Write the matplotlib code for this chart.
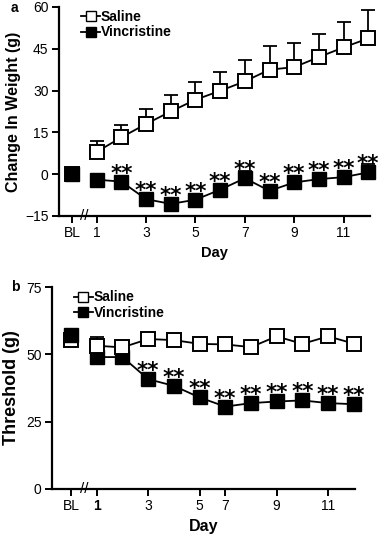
import numpy as np
import matplotlib
matplotlib.use("Agg")
import matplotlib.pyplot as plt
from matplotlib.lines import Line2D
import matplotlib.transforms as mtransforms

plt.rcParams['font.family'] = ['Liberation Sans', 'DejaVu Sans']

# panel a: change in weight (g), BL + days 1..12
pos_a = [0, 1, 2, 3, 4, 5, 6, 7, 8, 9, 10, 11, 12]
sal_a = [0, 8, 13.2, 18, 22.5, 26.7, 29.9, 33.3, 37.5, 38.4, 42, 45.5, 48.7]
sal_a_err = [0.8, 3.8, 4.6, 5.2, 6, 6.2, 6.6, 7.5, 8.4, 8.7, 8.4, 9.2, 10.1]
vin_a = [0, -2, -2.7, -9, -10.7, -9.2, -5.6, -1.5, -6, -3, -1.8, -1.1, 0.6]
vin_a_err = [0.8, 1, 1, 1, 1, 1, 1.5, 2.5, 2, 2, 2, 2.2, 3]
stars_a = [2, 3, 4, 5, 6, 7, 8, 9, 10, 11, 12]
ticks_a = [0, 1, 3, 5, 7, 9, 11]
labels_a = ['BL', '1', '3', '5', '7', '9', '11']

# panel b: threshold (g), BL + 11 test days (no day 6)
pos_b = [0, 1, 2, 3, 4, 5, 6, 7, 8, 9, 10, 11]
sal_b = [55.4, 53.2, 52.6, 55.7, 55.3, 53.9, 53.7, 52.7, 56.7, 53.9, 56.7, 54]
sal_b_err = [1, 3.2, 1, 1, 1, 1, 1, 1, 1, 1, 1, 1]
vin_b = [57.3, 49, 49, 40.8, 38.3, 34, 30.6, 31.9, 32.5, 32.9, 31.9, 31.5]
vin_b_err = [1.2, 1, 1, 1, 1, 1, 1, 1, 1, 1, 1, 1]
stars_b = [3, 4, 5, 6, 7, 8, 9, 10, 11]
ticks_b = [0, 1, 3, 5, 6, 8, 10]
labels_b = ['BL', '1', '3', '5', '7', '9', '11']

fig = plt.figure(figsize=(3.83, 5.37), dpi=100)
ax1 = fig.add_axes([0.154, 0.598, 0.812, 0.389])
ax2 = fig.add_axes([0.136, 0.0894, 0.791, 0.376])


def draw_panel(ax, pos, sal, sal_err, vin, vin_err, stars, sal_top):
    zs = 4 if sal_top else 3
    zv = 3 if sal_top else 4
    for y, e, z in [(sal, sal_err, zs), (vin, vin_err, zv)]:
        _, caps, bars = ax.errorbar(pos, y, yerr=[np.zeros(len(y)), e], fmt='none',
                                    ecolor='black', elinewidth=1.3, capsize=5,
                                    capthick=1.3, zorder=z - 0.5)
        for c in list(caps) + list(bars):
            c.set_clip_on(False)
    # BL point is not joined to day 1
    ax.plot(pos[1:], sal[1:], color='black', lw=1.3, marker='s', ms=9.5,
            mfc='white', mec='black', mew=1.4, zorder=zs, clip_on=False)
    ax.plot(pos[:1], sal[:1], ls='none', marker='s', ms=9.5,
            mfc='white', mec='black', mew=1.4, zorder=zs, clip_on=False)
    ax.plot(pos[1:], vin[1:], color='black', lw=1.3, marker='s', ms=9.5,
            mfc='black', mec='black', zorder=zv, clip_on=False)
    ax.plot(pos[:1], vin[:1], ls='none', marker='s', ms=9.5,
            mfc='black', mec='black', zorder=5, clip_on=False)
    for p in stars:
        ax.annotate('**', (pos[p], vin[p]), xytext=(0, 1.5), textcoords='offset points',
                    ha='center', va='baseline', fontsize=15.5, fontweight='bold',
                    family='DejaVu Sans', annotation_clip=False)
    for s in ['top', 'right']:
        ax.spines[s].set_visible(False)
    for s in ['left', 'bottom']:
        ax.spines[s].set_linewidth(1.6)
    ax.tick_params(direction='out', length=5, width=1.4, labelsize=10, pad=2.5)
    # axis break marks
    tr = mtransforms.blended_transform_factory(ax.transData, ax.transAxes)
    ax.text(0.5, 0.0, '//', transform=tr, ha='center', va='center', fontsize=11,
            clip_on=False)
    leg_handles = [
        Line2D([], [], color='black', lw=1.3, marker='s', ms=7.5, mfc='white', mec='black'),
        Line2D([], [], color='black', lw=1.3, marker='s', ms=7.5, mfc='black', mec='black'),
    ]
    ax.legend(leg_handles, ['Saline', 'Vincristine'], loc='upper left',
              bbox_to_anchor=(0.03, 1.045), frameon=False, handlelength=1.4,
              handletextpad=0.05, labelspacing=0.1,
              prop={'weight': 'bold', 'size': 10})


draw_panel(ax1, pos_a, sal_a, sal_a_err, vin_a, vin_a_err, stars_a, False)
ax1.set_xlim(-0.53, 12.07)
ax1.set_ylim(-15, 60)
ax1.set_yticks([-15, 0, 15, 30, 45, 60])
ax1.set_xticks(ticks_a)
ax1.set_xticklabels(labels_a)
ax1.set_ylabel('Change In Weight (g)', fontsize=11.5, fontweight='bold', labelpad=3)
ax1.set_xlabel('Day', fontsize=10.5, fontweight='bold', labelpad=4)

draw_panel(ax2, pos_b, sal_b, sal_b_err, vin_b, vin_b_err, stars_b, True)
ax2.set_xlim(-0.74, 11.05)
ax2.set_ylim(0, 75)
ax2.set_yticks([0, 25, 50, 75])
ax2.set_xticks(ticks_b)
ax2.set_xticklabels(labels_b)
ax2.get_xticklabels()[1].set_fontweight('bold')
ax2.set_ylabel('Threshold (g)', fontsize=13, fontweight='bold', labelpad=4)
ax2.set_xlabel('Day', fontsize=11.5, fontweight='bold', labelpad=4)

fig.text(0.028, 0.985, 'a', fontsize=10, fontweight='bold', va='center')
fig.text(0.028, 0.465, 'b', fontsize=10, fontweight='bold', va='center')

fig.savefig('out.png', dpi=100)
